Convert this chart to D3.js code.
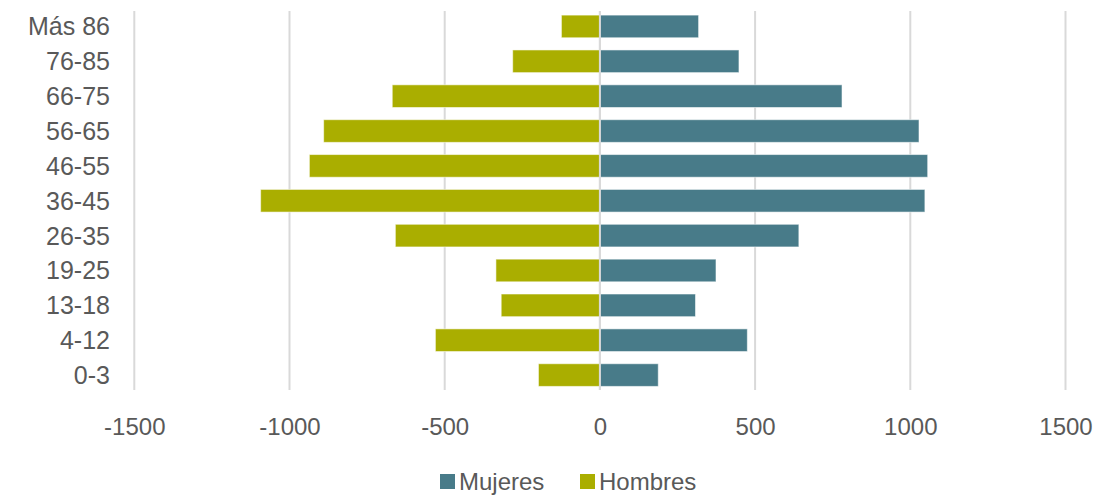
<!DOCTYPE html>
<html><head><meta charset="utf-8">
<script src="https://cdn.jsdelivr.net/npm/d3@7/dist/d3.min.js"></script>
<style>body{margin:0;background:#fff;}svg{display:block;font-family:"Liberation Sans",Arial,sans-serif;}</style>
</head><body>
<svg id="c" width="1113" height="495"></svg>
<script>
const categories = ["Más 86","76-85","66-75","56-65","46-55","36-45","26-35","19-25","13-18","4-12","0-3"];
const mujeres = [318, 448, 780, 1028, 1056, 1047, 641, 374, 308, 475, 188];
const hombres = [-124, -281, -669, -890, -936, -1093, -659, -335, -318, -530, -198];
const xTicks = [-1500, -1000, -500, 0, 500, 1000, 1500];
const seriesNames = ["Mujeres", "Hombres"];
const colors = {Mujeres: "#487B89", Hombres: "#AAAE00"};

const svg = d3.select("#c");
const x = d3.scaleLinear().domain([-1500, 1500]).range([134.3, 1065.5]);
const y = d3.scaleBand().domain(categories).range([9, 392.5]).paddingInner(0.35).paddingOuter(0.175);

// gridlines
svg.append("g").selectAll("line").data(xTicks).join("line")
  .attr("x1", d => x(d)).attr("x2", d => x(d)).attr("y1", 11).attr("y2", 390)
  .attr("stroke", "#d9d9d9").attr("stroke-width", 2);

const bars = svg.append("g");
bars.selectAll("rect.m").data(categories).join("rect").attr("class","m")
  .attr("x", (d,i) => x(0)).attr("width", (d,i) => x(mujeres[i]) - x(0))
  .attr("y", d => y(d)).attr("height", y.bandwidth())
  .attr("fill", colors.Mujeres).attr("stroke", "#ffffff").attr("stroke-opacity", 0.55).attr("stroke-width", 1);
bars.selectAll("rect.h").data(categories).join("rect").attr("class","h")
  .attr("x", (d,i) => x(hombres[i])).attr("width", (d,i) => x(0) - x(hombres[i]))
  .attr("y", d => y(d)).attr("height", y.bandwidth())
  .attr("fill", colors.Hombres).attr("stroke", "#ffffff").attr("stroke-opacity", 0.55).attr("stroke-width", 1);

// zero line on top
svg.append("line").attr("x1", x(0)).attr("x2", x(0)).attr("y1", 11).attr("y2", 390)
  .attr("stroke", "#d9d9d9").attr("stroke-width", 2);

// y axis labels
const yAxis = d3.axisLeft(y).tickSize(0).tickPadding(0);
const gy = svg.append("g").attr("transform", "translate(110,0)").call(yAxis);
gy.select(".domain").remove();
gy.selectAll("text").attr("font-size", 25).attr("fill", "#595959")
  .attr("font-family", "'Liberation Sans', Arial, sans-serif").attr("dy", "0.36em");

// x axis labels
const xAxis = d3.axisBottom(x).tickValues(xTicks).tickSize(0).tickPadding(0).tickFormat(d => String(d));
const gx = svg.append("g").attr("transform", "translate(0,418)").call(xAxis);
gx.select(".domain").remove();
gx.selectAll("text").attr("font-size", 24).attr("fill", "#595959")
  .attr("font-family", "'Liberation Sans', Arial, sans-serif").attr("dy", "0.72em");

// legend
const legendX = [440, 580];
const lg = svg.append("g");
seriesNames.forEach((s, i) => {
  lg.append("rect").attr("x", legendX[i]).attr("y", 474).attr("width", 15).attr("height", 15).attr("fill", colors[s]);
  lg.append("text").attr("x", legendX[i] + 19).attr("y", 481).attr("dy", "0.36em")
    .attr("font-size", 24).attr("fill", "#595959").text(s);
});
</script>
</body></html>
